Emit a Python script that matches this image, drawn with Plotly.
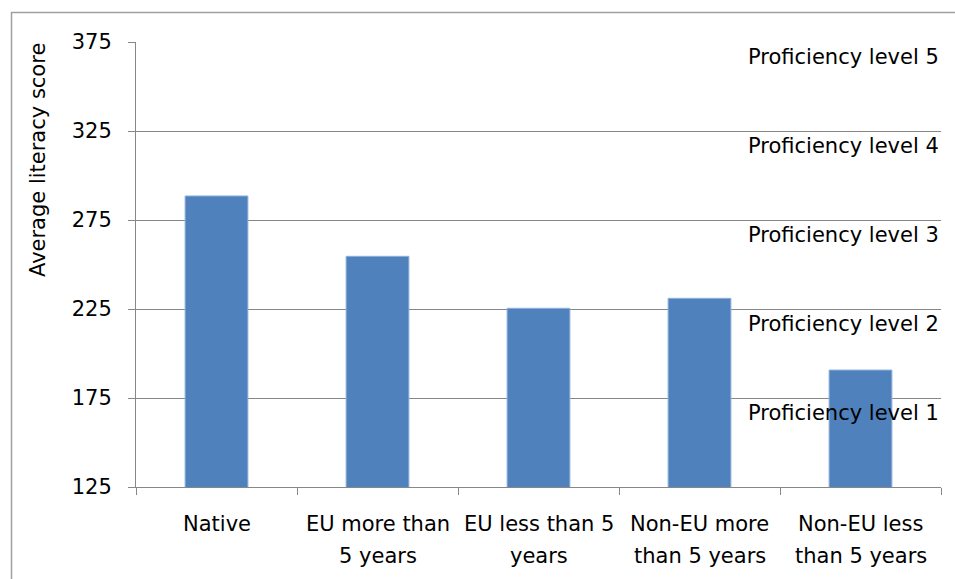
import plotly.graph_objects as go

categories = ["Native", "EU more than<br>5 years", "EU less than 5<br>years",
              "Non-EU more<br>than 5 years", "Non-EU less<br>than 5 years"]
scores = [288.5, 254.6, 225.4, 231.0, 190.7]
y_ticks = [125, 175, 225, 275, 325, 375]
level_labels = ["Proficiency level 5", "Proficiency level 4", "Proficiency level 3",
                "Proficiency level 2", "Proficiency level 1"]
level_tops = [375, 325, 275, 225, 175]

FONT = "DejaVu Sans"
FS = 21
GRID = "#878787"

fig = go.Figure()
fig.add_trace(go.Bar(
    x=list(range(len(categories))), y=scores,
    marker=dict(color="#4F81BD", line=dict(color="#8fb0da", width=1)),
    width=0.39,
))

# category labels (two lines each)
for i, c in enumerate(categories):
    lines = c.split("<br>")
    for j, ln in enumerate(lines):
        fig.add_annotation(x=i, y=-0.083 - j * 0.072, xref="x", yref="paper",
                           text=ln, showarrow=False, xanchor="center", yanchor="middle",
                           font=dict(family=FONT, size=FS, color="#000000"))

for lab, top in zip(level_labels, level_tops):
    fig.add_annotation(x=1.0, y=top, xref="paper", yref="y", yshift=-15,
                       text=lab, showarrow=False, xanchor="right", yanchor="middle",
                       font=dict(family=FONT, size=FS, color="#000000"))

fig.add_annotation(x=(38 - 136) / 805, y=(487 - 160) / 445, xref="paper", yref="paper",
                   text="Average literacy score", textangle=-90, showarrow=False,
                   xanchor="center", yanchor="middle",
                   font=dict(family=FONT, size=FS, color="#000000"))

# outer chart border
fig.add_shape(type="rect", xref="paper", yref="paper",
              x0=(11.5 - 136) / 805, x1=1.2, y0=(487 - 12.5) / 445, y1=-0.4,
              line=dict(color="#a0a0a0", width=1.5), fillcolor="rgba(0,0,0,0)", layer="below")

fig.update_layout(
    width=955, height=579,
    margin=dict(l=136, r=14, t=42, b=92),
    paper_bgcolor="white", plot_bgcolor="white",
    showlegend=False,
    font=dict(family=FONT, size=FS, color="#000000"),
    bargap=0.6,
)
fig.update_xaxes(
    range=[-0.5, len(categories) - 0.5],
    tickvals=[i - 0.5 for i in range(len(categories) + 1)],
    ticktext=[""] * (len(categories) + 1),
    ticks="outside", ticklen=7, tickcolor=GRID, tickwidth=1,
    showline=True, linecolor=GRID, linewidth=1,
    showgrid=False, zeroline=False,
)
fig.update_yaxes(
    range=[125, 375], tickvals=y_ticks, ticktext=[str(v) for v in y_ticks],
    ticks="outside", ticklen=7, tickcolor=GRID, tickwidth=1,
    showline=True, linecolor=GRID, linewidth=1,
    showgrid=True, gridcolor=GRID, gridwidth=1,
    zeroline=False, ticklabelstandoff=12,
    tickfont=dict(family=FONT, size=FS, color="#000000"),
)

fig.write_html("out.html")
